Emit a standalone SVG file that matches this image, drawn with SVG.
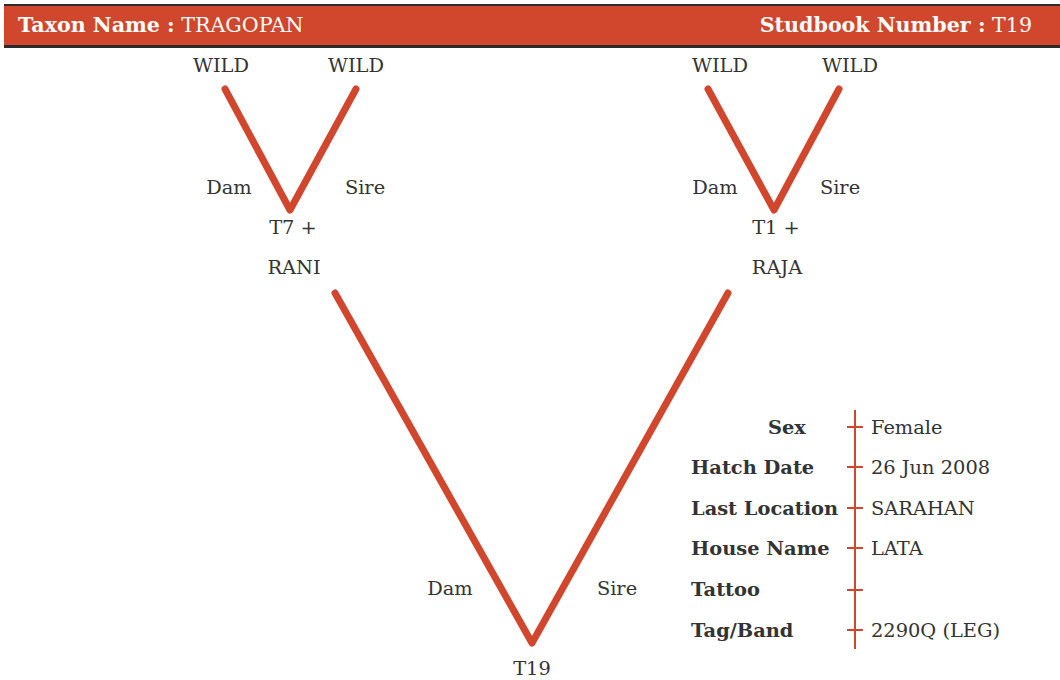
<svg xmlns="http://www.w3.org/2000/svg" width="1060" height="680" viewBox="0 0 1060 680">
<style>
text{font-family:"DejaVu Serif","Liberation Serif",serif;font-size:19.4px;fill:#333;}
.b{font-weight:bold;}
.h{fill:#fff;font-size:20.6px;}
.c{text-anchor:middle;}
.link{fill:none;stroke:#D0472D;stroke-width:7;stroke-linecap:round;stroke-linejoin:round;}
.tick{stroke:#D0472D;stroke-width:2;}
</style>
<rect x="0" y="0" width="1060" height="680" fill="#fff"/>
<g id="header">
<rect x="4" y="4" width="1056" height="44" fill="#2b2b2b"/>
<rect x="4" y="6" width="1056" height="39" fill="#D0472D"/>
<text x="18" y="32" class="h"><tspan class="b">Taxon Name :</tspan> TRAGOPAN</text>
<text x="1032" y="32" class="h" text-anchor="end"><tspan class="b">Studbook Number :</tspan> T19</text>
</g>
<g id="connectors">
<polyline class="link" points="225,89 290,210 356,89"/>
<polyline class="link" points="708,89 774,210 839,89"/>
<polyline class="link" points="335,293 532,643 728,293"/>
</g>
<g id="wild1"><text x="221" y="72" class="c">WILD</text></g>
<g id="wild2"><text x="356" y="72" class="c">WILD</text></g>
<g id="wild3"><text x="720" y="72" class="c">WILD</text></g>
<g id="wild4"><text x="850" y="72" class="c">WILD</text></g>
<g id="labels-left">
<text x="229" y="194" class="c">Dam</text>
<text x="365" y="194" class="c">Sire</text>
</g>
<g id="labels-right">
<text x="715" y="194" class="c">Dam</text>
<text x="840" y="194" class="c">Sire</text>
</g>
<g id="t7"><text x="293" y="234" class="c">T7 +</text><text x="294" y="274" class="c">RANI</text></g>
<g id="t1"><text x="776" y="234" class="c">T1 +</text><text x="777" y="274" class="c">RAJA</text></g>
<g id="labels-main">
<text x="450" y="595" class="c">Dam</text>
<text x="617" y="595" class="c">Sire</text>
</g>
<g id="t19"><text x="532" y="675" class="c">T19</text></g>
<g id="info">
<line x1="855" y1="410" x2="855" y2="649" class="tick"/>
<g class="ticks">
<line x1="847" y1="427" x2="863" y2="427" class="tick"/>
<line x1="847" y1="467" x2="863" y2="467" class="tick"/>
<line x1="847" y1="508" x2="863" y2="508" class="tick"/>
<line x1="847" y1="548" x2="863" y2="548" class="tick"/>
<line x1="847" y1="590" x2="863" y2="590" class="tick"/>
<line x1="847" y1="630" x2="863" y2="630" class="tick"/>
</g>
<text x="768" y="434" class="b">Sex</text>
<text x="691" y="474" class="b">Hatch Date</text>
<text x="691" y="515" class="b">Last Location</text>
<text x="691" y="555" class="b">House Name</text>
<text x="691" y="596" class="b">Tattoo</text>
<text x="691" y="637" class="b">Tag/Band</text>
<text x="871" y="434">Female</text>
<text x="871" y="474">26 Jun 2008</text>
<text x="871" y="515">SARAHAN</text>
<text x="871" y="555">LATA</text>
<text x="871" y="637">2290Q (LEG)</text>
</g>
</svg>
